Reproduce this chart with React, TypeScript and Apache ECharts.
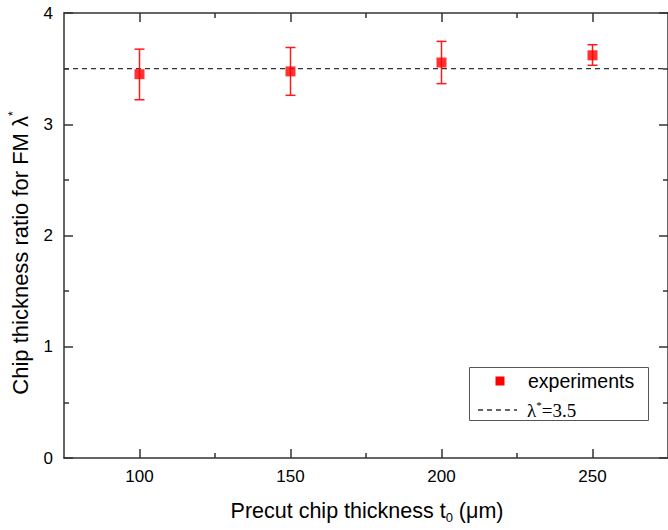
import React, { useEffect, useRef } from "react";
import * as echarts from "echarts";

// ---- data ----
const xMajorTicks = [100, 150, 200, 250];
const xMinorTicks = [125, 175, 225];
const thickness = [100, 150, 200, 250];
const ratioMean = [3.45, 3.475, 3.555, 3.62];
const ratioLow = [3.22, 3.26, 3.365, 3.53];
const ratioHigh = [3.675, 3.69, 3.745, 3.715];
const lambdaRef = 3.5;
const xRange = [75, 275];
const yRange = [0, 4];

const SANS = "'Liberation Sans', Arial, sans-serif";
const SERIF = "'Liberation Serif', 'Times New Roman', serif";
const AX = "#333";

export default function App() {
  const ref = useRef<HTMLDivElement>(null);

  useEffect(() => {
    if (!ref.current) return;
    const chart = echarts.init(ref.current, undefined, { renderer: "svg" });

    const axisLine = { show: true, lineStyle: { color: AX, width: 1.5 } };
    const baseX = {
      type: "value" as const,
      min: xRange[0],
      max: xRange[1],
      gridIndex: 0,
      splitLine: { show: false },
    };

    const option: any = {
      animation: false,
      backgroundColor: "#fff",
      grid: { left: 64, top: 13, width: 607, height: 445, containLabel: false },
      xAxis: [
        {
          ...baseX,
          position: "bottom",
          axisLine,
          axisTick: { show: true, inside: true, length: 9, customValues: xMajorTicks, lineStyle: { color: AX, width: 1.5 } },
          axisLabel: { show: true, customValues: xMajorTicks, fontSize: 17, color: "#000", fontFamily: SANS, margin: 10 },
        },
        {
          ...baseX,
          position: "bottom",
          axisLine: { show: false },
          axisTick: { show: true, inside: true, length: 5, customValues: xMinorTicks, lineStyle: { color: AX, width: 1.5 } },
          axisLabel: { show: false },
        },
        {
          ...baseX,
          position: "top",
          axisLine,
          axisTick: { show: true, inside: true, length: 9, customValues: xMajorTicks, lineStyle: { color: AX, width: 1.5 } },
          axisLabel: { show: false },
        },
        {
          ...baseX,
          position: "top",
          axisLine: { show: false },
          axisTick: { show: true, inside: true, length: 5, customValues: xMinorTicks, lineStyle: { color: AX, width: 1.5 } },
          axisLabel: { show: false },
        },
      ],
      yAxis: [
        {
          type: "value",
          min: yRange[0],
          max: yRange[1],
          interval: 1,
          position: "left",
          axisLine,
          axisTick: { show: true, inside: true, length: 9, lineStyle: { color: AX, width: 1.5 } },
          minorTick: { show: true, splitNumber: 2, length: 5, lineStyle: { color: AX, width: 1.5 } },
          axisLabel: { fontSize: 17, color: "#000", fontFamily: SANS, margin: 11 },
          splitLine: { show: false },
          minorSplitLine: { show: false },
        },
        {
          type: "value",
          min: yRange[0],
          max: yRange[1],
          interval: 1,
          position: "right",
          axisLine,
          axisTick: { show: true, inside: true, length: 9, lineStyle: { color: AX, width: 1.5 } },
          minorTick: { show: true, splitNumber: 2, length: 5, lineStyle: { color: AX, width: 1.5 } },
          axisLabel: { show: false },
          splitLine: { show: false },
        },
      ],
      series: [
        {
          type: "line",
          name: "ref",
          xAxisIndex: 0,
          yAxisIndex: 0,
          data: [
            [xRange[0], lambdaRef],
            [xRange[1], lambdaRef],
          ],
          symbol: "none",
          lineStyle: { color: AX, width: 1.3, type: [5, 4] },
          z: 1,
        },
        {
          type: "custom",
          name: "err",
          xAxisIndex: 0,
          yAxisIndex: 0,
          data: thickness.map((x, i) => [x, ratioLow[i], ratioHigh[i]]),
          renderItem: (params: any, api: any) => {
            const x = api.value(0);
            const lo = api.coord([x, api.value(1)]);
            const hi = api.coord([x, api.value(2)]);
            const w = 5;
            const st = { stroke: "#ff1a1a", lineWidth: 1.5 };
            return {
              type: "group",
              children: [
                { type: "line", shape: { x1: lo[0], y1: lo[1], x2: hi[0], y2: hi[1] }, style: st },
                { type: "line", shape: { x1: lo[0] - w, y1: lo[1], x2: lo[0] + w, y2: lo[1] }, style: st },
                { type: "line", shape: { x1: hi[0] - w, y1: hi[1], x2: hi[0] + w, y2: hi[1] }, style: st },
              ],
            };
          },
          z: 2,
        },
        {
          type: "scatter",
          name: "experiments",
          xAxisIndex: 0,
          yAxisIndex: 0,
          data: thickness.map((x, i) => [x, ratioMean[i]]),
          symbol: "rect",
          symbolSize: 10,
          itemStyle: { color: "#ff0000" },
          z: 3,
        },
      ],
      graphic: [
        {
          type: "rect",
          shape: { x: 469.5, y: 367.5, width: 179, height: 53 },
          style: { fill: "#fff", stroke: "#555", lineWidth: 1 },
          z: 10,
        },
        {
          type: "rect",
          shape: { x: 495.5, y: 376.5, width: 9, height: 9 },
          style: { fill: "#ff0000" },
          z: 11,
        },
        {
          type: "text",
          x: 528,
          y: 381,
          style: { text: "experiments", fontSize: 19.5, fontFamily: SANS, fill: "#000", verticalAlign: "middle", align: "left" },
          z: 11,
        },
        {
          type: "line",
          shape: { x1: 478, y1: 410, x2: 517, y2: 410 },
          style: { stroke: AX, lineWidth: 1.3, lineDash: [5, 4] },
          z: 11,
        },
        {
          type: "text",
          x: 527,
          y: 410,
          style: {
            text: "λ{sup|*}=3.5",
            fontSize: 19,
            fontFamily: SERIF,
            fill: "#000",
            verticalAlign: "middle",
            align: "left",
            rich: {
              sup: { fontSize: 11, fontFamily: SERIF, verticalAlign: "top", lineHeight: 11 },
            },
            lineHeight: 22,
          },
          z: 11,
        },
        {
          type: "text",
          x: 367,
          y: 511,
          style: {
            text: "Precut chip thickness t{sub|0} (μm)",
            fontSize: 21.5,
            fontFamily: SANS,
            fill: "#000",
            align: "center",
            verticalAlign: "middle",
            lineHeight: 26,
            rich: {
              sub: { fontSize: 13, fontFamily: SANS, verticalAlign: "bottom", lineHeight: 13 },
            },
          },
        },
        {
          type: "text",
          x: 20,
          y: 253,
          rotation: Math.PI / 2,
          style: {
            text: "Chip thickness ratio for FM λ{sup|*}",
            fontSize: 22,
            fontFamily: SANS,
            fill: "#000",
            align: "center",
            verticalAlign: "middle",
            lineHeight: 26,
            rich: {
              sup: { fontSize: 12, fontFamily: SANS, verticalAlign: "top", lineHeight: 12 },
            },
          },
        },
      ],
    };

    chart.setOption(option);
    return () => chart.dispose();
  }, []);

  return (
    <div
      ref={ref}
      style={{ position: "absolute", left: 0, top: 0, width: 668, height: 530, background: "#fff" }}
    />
  );
}
